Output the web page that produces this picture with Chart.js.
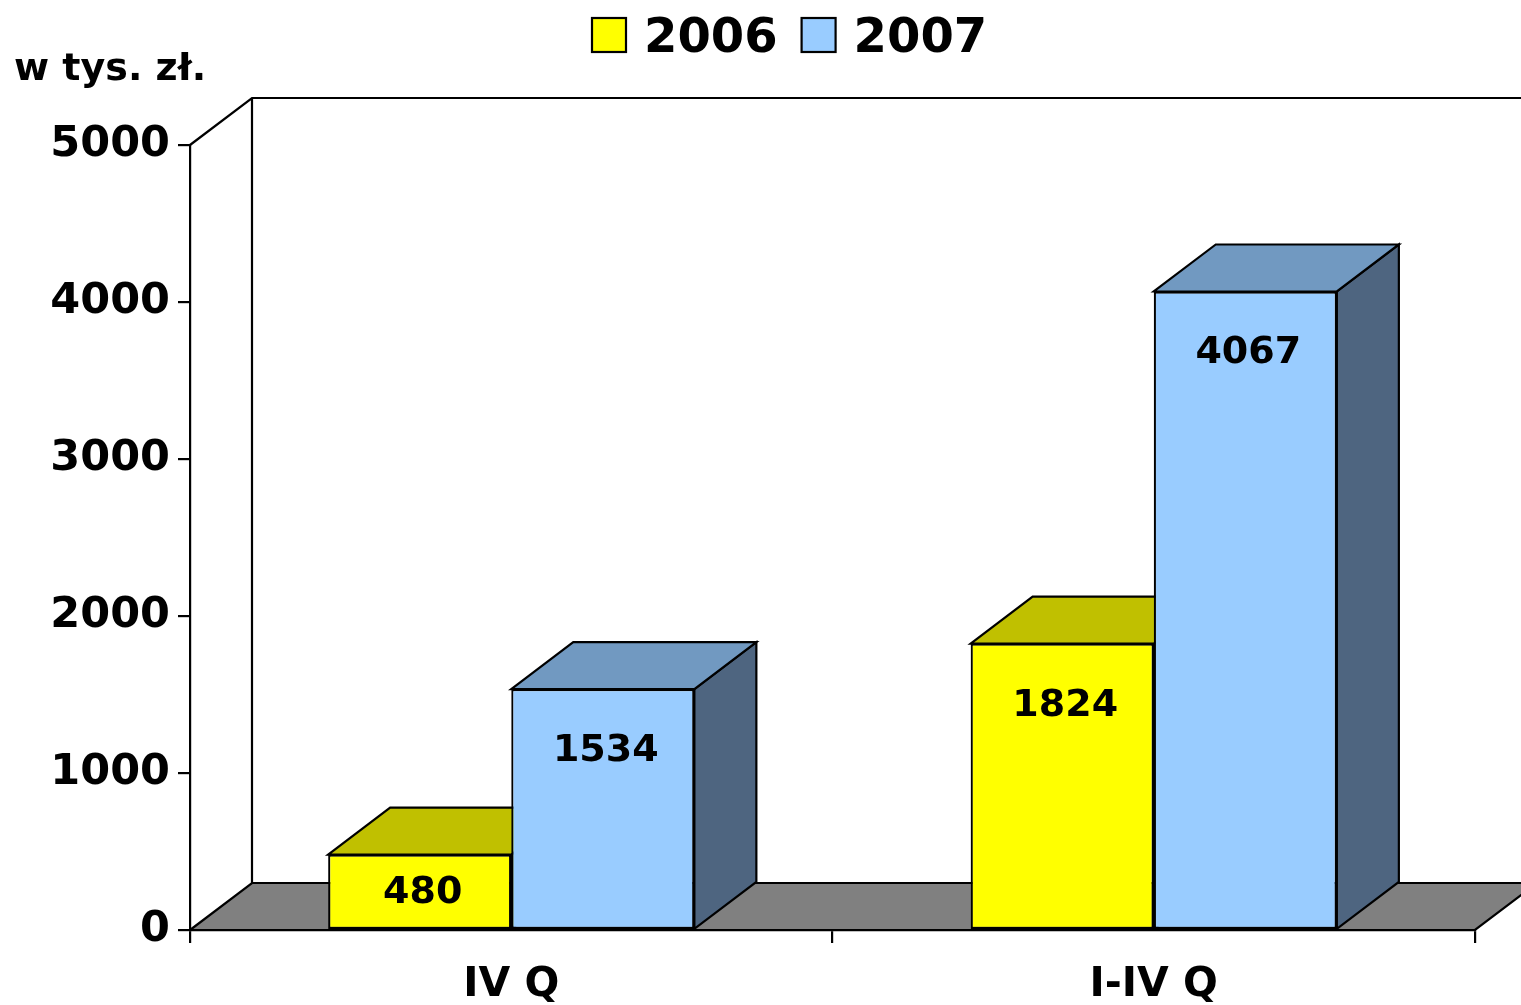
<!DOCTYPE html>
<html>
<head>
<meta charset="utf-8">
<title>w tys. zł. — IV Q / I-IV Q</title>
<script src="https://cdn.jsdelivr.net/npm/chart.js@4/dist/chart.umd.min.js"></script>
<style>
  html, body { margin: 0; padding: 0; background: #fff; }
  #wrap { width: 1521px; height: 1005px; }
</style>
</head>
<body>
<div id="wrap"><canvas id="chart" width="1521" height="1005"></canvas></div>
<script>
// ─── Data ────────────────────────────────────────────────────────────────────

const categories = ['IV Q', 'I-IV Q'];
const seriesNames = ['2006', '2007'];
const values2006 = [480, 1824];
const values2007 = [1534, 4067];
const unitLabel = 'w tys. zł.';

// ─── Style ───────────────────────────────────────────────────────────────────

const FONT = '"DejaVu Sans", Verdana, sans-serif';
const DEPTH_X = 62;
const DEPTH_Y = -47;
const LW = 2.2;

const FRONT = ['#ffff00', '#99ccff'];
const TOP   = ['#c0c000', '#7199c1'];
const SIDE  = ['#80800a', '#4e6580'];

function poly(ctx, pts, fill) {
  ctx.beginPath();
  ctx.moveTo(pts[0][0], pts[0][1]);
  for (let i = 1; i < pts.length; i++) ctx.lineTo(pts[i][0], pts[i][1]);
  ctx.closePath();
  if (fill) { ctx.fillStyle = fill; ctx.fill(); }
  ctx.stroke();
}

// ─── 3D box plugin ───────────────────────────────────────────────────────────

const box3d = {
  id: 'box3d',
  beforeDatasetsDraw(chart) {
    const { ctx, chartArea: a } = chart;
    ctx.save();
    ctx.strokeStyle = '#000';
    ctx.lineWidth = LW;
    ctx.lineJoin = 'miter';

    // back wall + left wall edges
    ctx.beginPath();
    ctx.moveTo(a.left, a.top);
    ctx.lineTo(a.left + DEPTH_X, a.top + DEPTH_Y);
    ctx.lineTo(chart.width + 10, a.top + DEPTH_Y);
    ctx.moveTo(a.left + DEPTH_X, a.top + DEPTH_Y);
    ctx.lineTo(a.left + DEPTH_X, a.bottom + DEPTH_Y);
    ctx.stroke();

    // floor
    poly(ctx, [
      [a.left, a.bottom],
      [a.right, a.bottom],
      [a.right + DEPTH_X, a.bottom + DEPTH_Y],
      [a.left + DEPTH_X, a.bottom + DEPTH_Y],
    ], '#808080');

    // tops and sides, drawn before the front faces
    for (let j = 0; j < categories.length; j++) {
      chart.data.datasets.forEach((ds, i) => {
        const bar = chart.getDatasetMeta(i).data[j];
        const l = bar.x - bar.width / 2;
        const r = bar.x + bar.width / 2;
        const t = bar.y;
        const b = bar.base;
        poly(ctx, [[r, t], [r + DEPTH_X, t + DEPTH_Y], [r + DEPTH_X, b + DEPTH_Y], [r, b]], SIDE[i]);
        poly(ctx, [[l, t], [l + DEPTH_X, t + DEPTH_Y], [r + DEPTH_X, t + DEPTH_Y], [r, t]], TOP[i]);
      });
    }
    ctx.restore();
  },
  afterDatasetsDraw(chart) {
    const { ctx } = chart;
    ctx.save();
    ctx.fillStyle = '#000';
    ctx.font = `bold 38px ${FONT}`;
    ctx.textAlign = 'center';
    ctx.textBaseline = 'middle';
    chart.data.datasets.forEach((ds, i) => {
      chart.getDatasetMeta(i).data.forEach((bar, j) => {
        const h = bar.base - bar.y;
        const cy = bar.y + Math.min(58, h / 2 - 3) + 4;
        ctx.fillText(String(ds.data[j]), bar.x + 3, cy);
      });
    });
    ctx.restore();
  },
  afterDraw(chart) {
    const { ctx } = chart;
    ctx.save();
    ctx.fillStyle = '#000';
    ctx.textBaseline = 'middle';

    // unit label
    ctx.font = `bold 38px ${FONT}`;
    ctx.textAlign = 'left';
    ctx.fillText(unitLabel, 14, 70);

    // legend
    ctx.font = `bold 48px ${FONT}`;
    let x = 592;
    chart.data.datasets.forEach((ds, i) => {
      ctx.fillStyle = FRONT[i];
      ctx.strokeStyle = '#000';
      ctx.lineWidth = LW;
      ctx.fillRect(x, 18, 34, 34);
      ctx.strokeRect(x, 18, 34, 34);
      ctx.fillStyle = '#000';
      ctx.fillText(ds.label, x + 52, 40);
      x += 52 + ctx.measureText(ds.label).width + 24;
    });
    ctx.restore();
  },
};

// ─── Chart ───────────────────────────────────────────────────────────────────

new Chart(document.getElementById('chart'), {
  type: 'bar',
  data: {
    labels: categories,
    datasets: [
      { label: seriesNames[0], data: values2006, backgroundColor: FRONT[0] },
      { label: seriesNames[1], data: values2007, backgroundColor: FRONT[1] },
    ],
  },
  options: {
    responsive: false,
    animation: false,
    devicePixelRatio: 1,
    layout: { padding: { left: 0, right: 46, top: 145, bottom: 0 } },
    datasets: {
      bar: {
        borderColor: '#000',
        borderWidth: LW,
        borderSkipped: false,
        categoryPercentage: 0.57,
        barPercentage: 1,
      },
    },
    plugins: {
      legend: { display: false },
      tooltip: { enabled: false },
    },
    scales: {
      x: {
        afterFit: (s) => { s.height = 75; },
        grid: {
          display: true,
          drawOnChartArea: false,
          tickLength: 13,
          color: '#000',
          lineWidth: LW,
        },
        border: { display: true, color: '#000', width: LW },
        ticks: {
          color: '#000',
          padding: 18,
          font: { family: FONT, size: 41, weight: 'bold' },
        },
      },
      y: {
        min: 0,
        max: 5000,
        afterFit: (s) => { s.width = 190; },
        grid: {
          display: true,
          drawOnChartArea: false,
          tickLength: 12,
          color: '#000',
          lineWidth: LW,
        },
        border: { display: true, color: '#000', width: LW },
        ticks: {
          stepSize: 1000,
          color: '#000',
          padding: 8,
          callback: (v) => String(v),
          font: { family: FONT, size: 43, weight: 'bold' },
        },
      },
    },
  },
  plugins: [box3d],
});
</script>
</body>
</html>
